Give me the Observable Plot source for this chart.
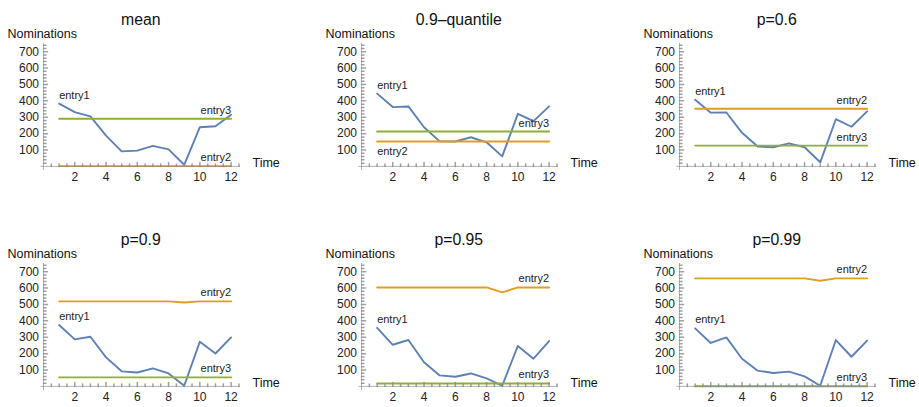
<!DOCTYPE html>
<html><head><meta charset="utf-8">
<script src="https://cdn.jsdelivr.net/npm/d3@7"></script>
<script src="https://cdn.jsdelivr.net/npm/@observablehq/plot@0.6"></script>
<style>
html,body{margin:0;padding:0;background:#fff;overflow:hidden;}
#wrap{position:relative;width:919px;height:407px;overflow:hidden;}
.panel{position:absolute;}
</style></head><body><div id="wrap"></div>
<script>
// ---- data ----
const time = [1,2,3,4,5,6,7,8,9,10,11,12];
const xTicks = [2,4,6,8,10,12];
const yTicks = [100,200,300,400,500,600,700];
const seriesNames = ["entry1","entry2","entry3"];
const panelTitles = ["mean","0.9\u2013quantile","p=0.6","p=0.9","p=0.95","p=0.99"];

const meanEntry1 = [383,331,305,188,92,96,125,104,10,239,245,315];
const meanEntry2 = [2,2,2,2,2,2,2,2,2,2,2,2];
const meanEntry3 = [291,291,291,291,291,291,291,291,291,291,291,291];

const q09Entry1 = [444,362,366,239,153,152,178,147,61,321,276,366];
const q09Entry2 = [152,152,152,152,152,152,152,152,152,152,152,152];
const q09Entry3 = [213,213,213,213,213,213,213,213,213,213,213,213];

const p06Entry1 = [407,328,329,205,121,117,141,117,25,288,242,336];
const p06Entry2 = [352,352,352,352,352,352,352,352,352,352,352,352];
const p06Entry3 = [127,127,127,127,127,127,127,127,127,127,127,127];

const p09Entry1 = [375,287,303,177,92,85,110,79,4,273,201,299];
const p09Entry2 = [519,519,519,519,519,519,519,519,512,519,519,519];
const p09Entry3 = [55,55,55,55,55,55,55,55,55,55,55,55];

const p095Entry1 = [357,254,283,147,67,59,79,49,4,247,169,277];
const p095Entry2 = [604,604,604,604,604,604,604,604,574,604,604,604];
const p095Entry3 = [18,18,18,18,18,18,18,18,18,18,18,18];

const p099Entry1 = [354,265,299,169,96,82,90,61,4,283,181,279];
const p099Entry2 = [659,659,659,659,659,659,659,659,645,659,659,659];
const p099Entry3 = [1,1,1,1,1,1,1,1,1,1,1,1];

// label placement: [series, which end, side]
const labelsDefault = [["entry1","first","above"],["entry2","last","above"],["entry3","last","above"]];
const labelsQ09 = [["entry1","first","above"],["entry2","first","below"],["entry3","last","above"]];

// ---- style ----
const colors = ["#5E81B5","#E19C24","#8FB032"];
const axisColor = "#8a8a8a";
const font = "'Liberation Sans', Arial, sans-serif";

const panels = [
  {title: panelTitles[0], s: [meanEntry1, meanEntry2, meanEntry3], labels: labelsDefault, left: 0, top: 0},
  {title: panelTitles[1], s: [q09Entry1, q09Entry2, q09Entry3], labels: labelsQ09, left: 318, top: 0},
  {title: panelTitles[2], s: [p06Entry1, p06Entry2, p06Entry3], labels: labelsDefault, left: 636, top: 0},
  {title: panelTitles[3], s: [p09Entry1, p09Entry2, p09Entry3], labels: labelsDefault, left: 0, top: 220},
  {title: panelTitles[4], s: [p095Entry1, p095Entry2, p095Entry3], labels: labelsDefault, left: 318, top: 220},
  {title: panelTitles[5], s: [p099Entry1, p099Entry2, p099Entry3], labels: labelsDefault, left: 636, top: 220}
];

const tickShape = {draw(ctx, l) { ctx.moveTo(0, 0); ctx.lineTo(0, -l); }};
const xMinor = d3.range(0.5, 12.51, 0.5).filter(v => v % 2 !== 0);
const yMinor = d3.range(20, 741, 20).filter(v => v % 100 !== 0);

function makePanel(p) {
  const rows = [];
  seriesNames.forEach((name, k) => time.forEach((t, i) => rows.push({t, v: p.s[k][i], s: name})));
  const labelRows = p.labels.map(([name, end, side]) => {
    const arr = p.s[seriesNames.indexOf(name)];
    const i = end === "first" ? 0 : arr.length - 1;
    return {t: time[i], v: arr[i], s: name, end, side};
  });
  const labelMarks = [];
  for (const end of ["first","last"]) for (const side of ["above","below"]) {
    const sub = labelRows.filter(d => d.end === end && d.side === side);
    if (sub.length) labelMarks.push(Plot.text(sub, {x: "t", y: "v", text: "s",
      textAnchor: end === "first" ? "start" : "end", dy: side === "above" ? -8.5 : 10,
      fontSize: 11, fill: "#222"}));
  }
  const bottomRow = p.top > 0;
  return Plot.plot({
    width: 283, height: bottomRow ? 188 : 190,
    marginLeft: 40.5, marginRight: 43, marginTop: 43, marginBottom: bottomRow ? 18 : 20,
    x: {domain: [-0.16, 12.6]},
    y: {domain: [-25, 750]},
    color: {domain: seriesNames, range: colors},
    style: {fontFamily: font, background: "white", overflow: "visible"},
    marks: [
      Plot.line(rows, {x: "t", y: "v", z: "s", stroke: "s", strokeWidth: 1.9}),
      Plot.ruleY([0], {stroke: axisColor, strokeOpacity: 0.65}),
      Plot.ruleX([0], {stroke: axisColor, strokeOpacity: 0.65}),
      Plot.vector(xTicks, {x: d => d, y: () => 0, length: 4, rotate: 0, anchor: "start", shape: tickShape, stroke: axisColor, strokeOpacity: 0.8}),
      Plot.vector(xMinor, {x: d => d, y: () => 0, length: 2.5, rotate: 0, anchor: "start", shape: tickShape, stroke: axisColor, strokeOpacity: 0.8}),
      Plot.vector(yTicks, {x: () => 0, y: d => d, length: 4, rotate: 90, anchor: "start", shape: tickShape, stroke: axisColor, strokeOpacity: 0.8}),
      Plot.vector(yMinor, {x: () => 0, y: d => d, length: 2.5, rotate: 90, anchor: "start", shape: tickShape, stroke: axisColor, strokeOpacity: 0.8}),
      Plot.axisX(xTicks, {tickSize: 0, tickPadding: 2, fontSize: 12, fill: "#222", label: null}),
      Plot.axisY(yTicks, {tickSize: 0, tickPadding: 2, fontSize: 12, fill: "#222", label: null}),
      ...labelMarks,
      Plot.text(["Time"], {frameAnchor: "bottom-right", dx: 12, dy: -4, textAnchor: "start", fontSize: 12.5, fill: "#111"}),
      Plot.text(["Nominations"], {frameAnchor: "top-left", dx: -33.5, dy: -14, textAnchor: "start", fontSize: 12.5, fill: "#111"}),
      Plot.text([p.title], {frameAnchor: "top", dy: -30, fontSize: 15.8, fill: "#111"})
    ]
  });
}

const wrap = document.getElementById("wrap");
for (const p of panels) {
  const div = document.createElement("div");
  div.className = "panel";
  div.style.left = p.left + "px";
  div.style.top = p.top + "px";
  div.appendChild(makePanel(p));
  wrap.appendChild(div);
}
</script>
</body></html>
